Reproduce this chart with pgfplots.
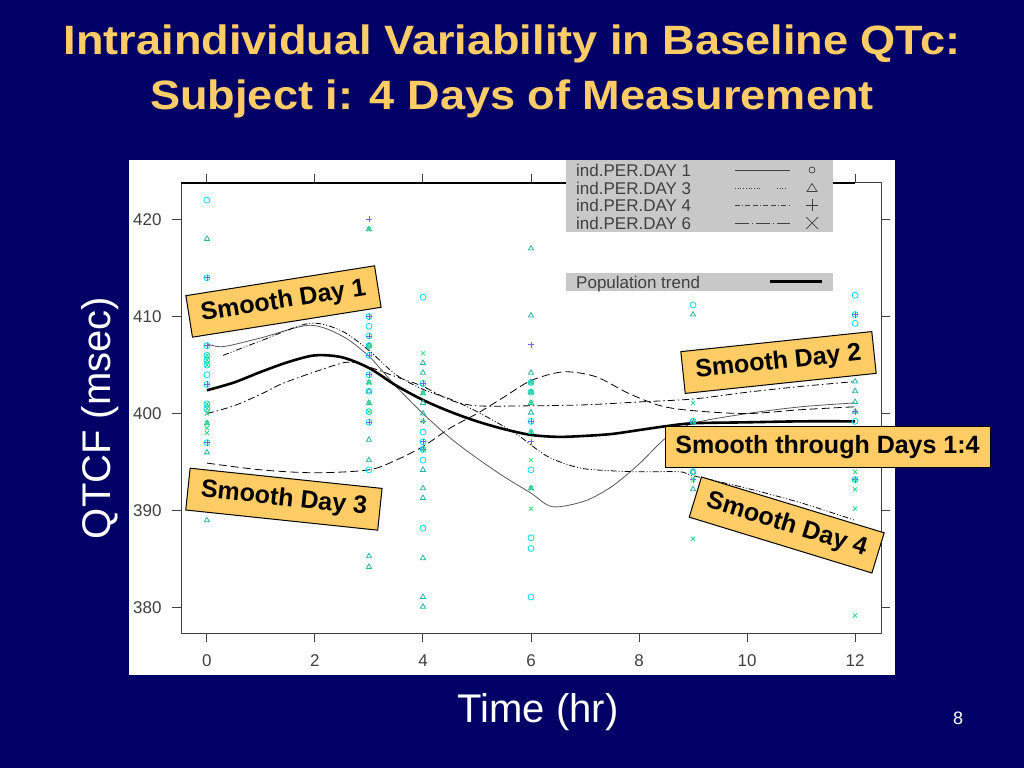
\documentclass[border=0pt]{standalone}
\usepackage{fontspec}
\setmainfont{Liberation Sans}
\usepackage{pgfplots}
\pgfplotsset{compat=1.18}

\definecolor{slidebg}{RGB}{0,0,102}
\definecolor{titlecol}{RGB}{255,204,102}
\definecolor{boxcol}{RGB}{255,204,102}
\definecolor{legbg}{RGB}{200,200,200}
\definecolor{axcol}{RGB}{64,64,64}
\definecolor{cCirc}{RGB}{0,220,255}
\definecolor{cTri}{RGB}{40,180,170}
\definecolor{cPlus}{RGB}{110,100,255}
\definecolor{cX}{RGB}{40,220,130}

\newcommand{\fs}[1]{\fontsize{#1}{#1}\selectfont}

\tikzset{lbl/.style={draw=black, line width=1pt, fill=boxcol, text=black,
  font=\bfseries\fs{25}, minimum height=42pt, inner sep=0pt}}

\begin{document}
\begin{tikzpicture}
\fill[slidebg] (0,0) rectangle (1024pt,768pt);
\path[use as bounding box] (0,0) rectangle (1024pt,768pt);
\fill[white] (129pt,93pt) rectangle (895pt,608pt);

\begin{axis}[
  at={(181pt,135pt)}, anchor=south west,
  scale only axis, width=700pt, height=450pt,
  xmin=-0.48, xmax=12.48, ymin=377.39, ymax=423.76,
  xtick={0,2,...,12}, ytick={380,390,...,420},
  tick align=outside, major tick length=9pt,
  axis line style={axcol, line width=1pt},
  tick style={axcol, line width=1pt},
  ticklabel style={font=\fs{17}, text=axcol},
  xticklabel style={yshift=-9pt},
  yticklabel style={xshift=-7pt},
  /pgf/number format/assume math mode=true,
  mark options={solid, line width=0.8pt},
]
% day 1 (circles)
\addplot[only marks, mark=o, mark size=3pt, cCirc] coordinates {
 (0,422) (0,414) (0,407) (0,406) (0,405.5) (0,405) (0,404) (0,403) (0,401) (0,400.5) (0,397)
 (3,410) (3,409) (3,408) (3,407) (3,406) (3,404) (3,402.3) (3,400.2) (3,399.1) (3,394.2)
 (4,412) (4,403.1) (4,398.1) (4,397.1) (4,396.3) (4,395.2) (4,388.2)
 (6,403.2) (6,402.2) (6,399.2) (6,394.2) (6,387.2) (6,386.1) (6,381.1)
 (9,411.2) (9,399.2) (9,394)
 (12,412.2) (12,410.2) (12,409.3) (12,399.2) (12,393.2)
};
% day 3 (triangles)
\addplot[only marks, mark=triangle, mark size=3pt, cTri] coordinates {
 (0,418) (0,399) (0,396) (0,389)
 (3,419) (3,407) (3,403.2) (3,402.3) (3,401.1) (3,397.3) (3,395.2) (3,385.3) (3,384.2)
 (4,405.2) (4,404.2) (4,402.1) (4,401.1) (4,400) (4,394.2) (4,392.3) (4,391.3) (4,385.1) (4,381.1) (4,380.1)
 (6,417) (6,410.1) (6,404.2) (6,403.2) (6,402.2) (6,401.1) (6,400.1) (6,398.1) (6,392.3)
 (9,410.2) (9,394) (9,392.2)
 (12,403.3) (12,402.3) (12,401.2) (12,400.2)
};
% day 4 (plus)
\addplot[only marks, mark=+, mark size=3pt, cPlus] coordinates {
 (0,414) (0,407) (0,403) (0,397)
 (3,420) (3,410) (3,408) (3,406) (3,404) (3,399.1)
 (4,403.1) (4,399.2) (4,397.1) (4,396.3)
 (6,407.1) (6,399.2) (6,397.1)
 (9,399.2) (9,393.2)
 (12,410.2) (12,400.2) (12,393.2)
};
% day 6 (x)
\addplot[only marks, mark=x, mark size=3pt, cX] coordinates {
 (0,406) (0,405.5) (0,405) (0,401) (0,400.5) (0,400) (0,399) (0,398.5) (0,398)
 (3,419) (3,407) (3,403.2) (3,401.1) (3,400.2)
 (4,406.2) (4,402.1) (4,399.2) (4,396.3)
 (6,403.2) (6,402.2) (6,401.1) (6,398.1) (6,395.2) (6,392.3) (6,390.2)
 (9,401.1) (9,399.2) (9,393.2) (9,390.2) (9,387.1)
 (12,394) (12,393.2) (12,392.2) (12,390.2) (12,379.2)
};
% smooth curves per day
\addplot[black!65, line width=0.8pt, smooth] coordinates {
 (0,407.2) (0.3,406.9) (1,407.8) (1.9,409.1) (2.5,408.0) (3,405.9) (3.5,402.8) (4,400.0)
 (4.5,397.5) (5,395.4) (5.5,393.5) (6,391.8) (6.4,390.4) (7,391.0) (7.5,392.5) (8,394.8)
 (8.5,397.5) (9,399.0) (10,400.0) (11,400.7) (12,401.1)
};
\addplot[black, line width=0.8pt, smooth, dash pattern=on 6pt off 2pt on 1pt off 2pt on 1pt off 2pt] coordinates {
 (0.3,406.0) (1,407.5) (1.9,409.3) (2.5,408.5) (3,406.5) (3.5,404.0) (4,402.5) (4.5,401.5)
 (5,400.2) (5.7,398.0) (6.3,395.6) (6.9,394.4) (7.5,394.1) (8,394.0) (8.75,394.0) (9,393.6)
 (10,392.3) (11,390.8) (12,389.0)
};
\addplot[black, line width=0.8pt, smooth, dash pattern=on 7pt off 3pt on 1.5pt off 3pt] coordinates {
 (0,400.0) (0.5,400.8) (1,402.0) (1.4,403.1) (2,404.3) (2.6,405.3) (3,404.8) (3.5,403.8)
 (4,402.8) (4.5,401.4) (5,400.8) (6,400.8) (7,400.9) (8,401.2) (9,401.5) (10,402.2)
 (11,402.8) (12,403.3)
};
\addplot[black, line width=0.8pt, smooth, dash pattern=on 8pt off 4pt] coordinates {
 (0,394.9) (1,394.2) (2,393.9) (3,394.2) (3.5,395.2) (4,396.6) (4.5,398.5) (5,400.0)
 (5.5,401.7) (6,403.4) (6.6,404.3) (7.2,403.8) (7.8,402.1) (8.4,400.8) (9,400.3)
 (10,400.0) (11,400.4) (12,400.7)
};
% population trend
\addplot[black, line width=2.6pt, smooth] coordinates {
 (0,402.4) (0.5,403.2) (1,404.3) (1.5,405.3) (2,406.0) (2.5,405.8) (3,404.7) (3.5,402.9)
 (4,401.4) (4.5,400.2) (5,399.2) (5.5,398.4) (6,397.8) (6.5,397.6) (7,397.7) (7.5,397.9)
 (8,398.3) (8.5,398.7) (9,399.0) (10,399.1) (11,399.2) (12,399.2)
};
\end{axis}

\draw[black, line width=2pt] (181pt,585pt) -- (855pt,585pt);

% legend
\fill[legbg] (566pt,536pt) rectangle (833pt,608pt);
\fill[legbg] (566pt,477pt) rectangle (833pt,495pt);
\begin{scope}[font=\fs{17}, text=axcol]
\node[anchor=base west, inner sep=0pt] at (576pt,591pt) {ind.PER.DAY 1};
\node[anchor=base west, inner sep=0pt] at (576pt,573.5pt) {ind.PER.DAY 3};
\node[anchor=base west, inner sep=0pt] at (576pt,556pt) {ind.PER.DAY 4};
\node[anchor=base west, inner sep=0pt] at (576pt,538.5pt) {ind.PER.DAY 6};
\node[anchor=base west, inner sep=0pt] at (576pt,479.5pt) {Population trend};
\end{scope}
\begin{scope}[black!75, line width=0.7pt]
\draw (735pt,598pt) -- (790pt,598pt);
\draw[dotted] (735pt,580pt) -- (760pt,580pt);
\draw[dotted] (777pt,580pt) -- (787pt,580pt);
\draw[dash pattern=on 5pt off 2pt on 1pt off 2pt on 5pt off 3pt] (735pt,562.5pt) -- (790pt,562.5pt);
\draw[dash pattern=on 14pt off 3pt on 1pt off 3pt] (735pt,545pt) -- (790pt,545pt);
\draw (812pt,598pt) circle (3pt);
\draw (807pt,576.5pt) -- (817pt,576.5pt) -- (812pt,584.5pt) -- cycle;
\draw (806pt,562.5pt) -- (818pt,562.5pt) (812pt,556.5pt) -- (812pt,568.5pt);
\draw (806pt,539pt) -- (818pt,551pt) (806pt,551pt) -- (818pt,539pt);
\end{scope}
\draw[black, line width=3pt] (770pt,486pt) -- (822pt,486pt);

% annotation boxes
\node[lbl, rotate=9, minimum width=191pt] at (283.5pt,466.5pt) {Smooth Day 1};
\node[lbl, rotate=6, minimum width=192pt] at (778.5pt,405.5pt) {Smooth Day 2};
\node[lbl, minimum width=325pt, minimum height=41pt] at (827.5pt,320.5pt) {Smooth through Days 1:4};
\node[lbl, rotate=-6, minimum width=193pt] at (283.9pt,268.8pt) {Smooth Day 3};
\node[lbl, rotate=-17, minimum width=191pt] at (786.7pt,243pt) {Smooth Day 4};

% titles
\node[text=titlecol, font=\bfseries\fs{41}, anchor=base, xscale=1.1] at (512pt,713pt) {Intraindividual Variability in Baseline QTc:};
\node[text=titlecol, font=\bfseries\fs{41}, anchor=base, xscale=1.1] at (512pt,658pt) {Subject i: 4 Days of Measurement};
\node[white, font=\fs{40}, rotate=90] at (100pt,350pt) {QTCF (msec)};
\node[white, font=\fs{40}] at (538pt,56pt) {Time (hr)};
\node[white, font=\fs{18}] at (958pt,50pt) {8};
\end{tikzpicture}
\end{document}
